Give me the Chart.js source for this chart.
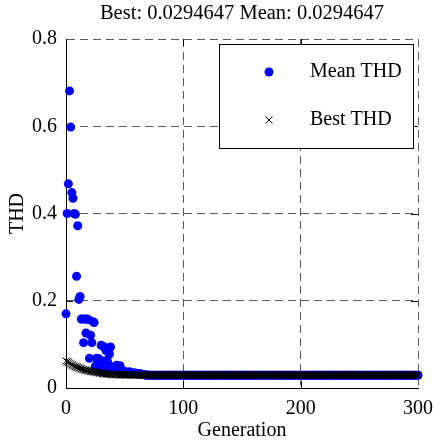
<!DOCTYPE html>
<html><head><meta charset="utf-8">
<script src="https://cdn.jsdelivr.net/npm/chart.js@4"></script>
<style>html,body{margin:0;padding:0;background:#fff}#wrap{width:434px;height:446px}</style>
</head><body><div id="wrap"><canvas id="c" width="434" height="446"></canvas></div>
<script>
// ---- data (one value per generation, generation = array index) ----
const chartTitle = 'Best: 0.0294647 Mean: 0.0294647';
const seriesNames = ['Mean THD', 'Best THD'];
const generationTicks = [0, 100, 200, 300];
const thdTicks = [0, 0.2, 0.4, 0.6, 0.8];

const meanTHD = [
0.170,0.400,0.468,0.681,0.598,0.448,0.435,0.400,0.398,0.256,
0.372,0.203,0.210,0.158,0.158,0.104,0.158,0.126,0.158,0.157,
0.068,0.121,0.104,0.152,0.150,0.050,0.068,0.050,0.067,0.049,
0.098,0.062,0.095,0.042,0.086,0.064,0.056,0.078,0.094,0.047,
0.042,0.040,0.044,0.052,0.038,0.050,0.051,0.037,0.041,0.036,
0.038,0.035,0.036,0.034,0.037,0.035,0.034,0.033,0.035,0.033,
0.034,0.033,0.032,0.033,0.032,0.031,0.031,0.030,0.0298,0.0296,
0.0295,0.0295,0.0295,0.0295,0.0295,0.0295,0.0295,0.0295,0.0295,0.0295,
0.0295,0.0295,0.0295,0.0295,0.0295,0.0295,0.0295,0.0295,0.0295,0.0295,
0.0295,0.0295,0.0295,0.0295,0.0295,0.0295,0.0295,0.0295,0.0295,0.0295,
0.0295,0.0295,0.0295,0.0295,0.0295,0.0295,0.0295,0.0295,0.0295,0.0295,
0.0295,0.0295,0.0295,0.0295,0.0295,0.0295,0.0295,0.0295,0.0295,0.0295,
0.0295,0.0295,0.0295,0.0295,0.0295,0.0295,0.0295,0.0295,0.0295,0.0295,
0.0295,0.0295,0.0295,0.0295,0.0295,0.0295,0.0295,0.0295,0.0295,0.0295,
0.0295,0.0295,0.0295,0.0295,0.0295,0.0295,0.0295,0.0295,0.0295,0.0295,
0.0295,0.0295,0.0295,0.0295,0.0295,0.0295,0.0295,0.0295,0.0295,0.0295,
0.0295,0.0295,0.0295,0.0295,0.0295,0.0295,0.0295,0.0295,0.0295,0.0295,
0.0295,0.0295,0.0295,0.0295,0.0295,0.0295,0.0295,0.0295,0.0295,0.0295,
0.0295,0.0295,0.0295,0.0295,0.0295,0.0295,0.0295,0.0295,0.0295,0.0295,
0.0295,0.0295,0.0295,0.0295,0.0295,0.0295,0.0295,0.0295,0.0295,0.0295,
0.0295,0.0295,0.0295,0.0295,0.0295,0.0295,0.0295,0.0295,0.0295,0.0295,
0.0295,0.0295,0.0295,0.0295,0.0295,0.0295,0.0295,0.0295,0.0295,0.0295,
0.0295,0.0295,0.0295,0.0295,0.0295,0.0295,0.0295,0.0295,0.0295,0.0295,
0.0295,0.0295,0.0295,0.0295,0.0295,0.0295,0.0295,0.0295,0.0295,0.0295,
0.0295,0.0295,0.0295,0.0295,0.0295,0.0295,0.0295,0.0295,0.0295,0.0295,
0.0295,0.0295,0.0295,0.0295,0.0295,0.0295,0.0295,0.0295,0.0295,0.0295,
0.0295,0.0295,0.0295,0.0295,0.0295,0.0295,0.0295,0.0295,0.0295,0.0295,
0.0295,0.0295,0.0295,0.0295,0.0295,0.0295,0.0295,0.0295,0.0295,0.0295,
0.0295,0.0295,0.0295,0.0295,0.0295,0.0295,0.0295,0.0295,0.0295,0.0295,
0.0295,0.0295,0.0295,0.0295,0.0295,0.0295,0.0295,0.0295,0.0295,0.0295,
0.0294647
];

const bestTHD = [
0.062,0.060,0.059,0.057,0.055,0.053,0.052,0.050,0.049,0.048,
0.047,0.046,0.045,0.044,0.043,0.042,0.041,0.041,0.040,0.040,
0.039,0.038,0.038,0.037,0.037,0.036,0.036,0.035,0.035,0.034,
0.034,0.033,0.033,0.033,0.032,0.032,0.032,0.032,0.031,0.031,
0.031,0.031,0.031,0.0305,0.0305,0.0305,0.0303,0.0303,0.0302,0.0302,
0.0301,0.0301,0.0300,0.0300,0.0300,0.0299,0.0299,0.0299,0.0298,0.0298,
0.0298,0.0297,0.0297,0.0297,0.0296,0.0296,0.0296,0.0296,0.0295,0.0295,
0.0295,0.0295,0.0295,0.0295,0.0295,0.0295,0.0295,0.0295,0.0295,0.0295,
0.0295,0.0295,0.0295,0.0295,0.0295,0.0295,0.0295,0.0295,0.0295,0.0295,
0.0295,0.0295,0.0295,0.0295,0.0295,0.0295,0.0295,0.0295,0.0295,0.0295,
0.0295,0.0295,0.0295,0.0295,0.0295,0.0295,0.0295,0.0295,0.0295,0.0295,
0.0295,0.0295,0.0295,0.0295,0.0295,0.0295,0.0295,0.0295,0.0295,0.0295,
0.0295,0.0295,0.0295,0.0295,0.0295,0.0295,0.0295,0.0295,0.0295,0.0295,
0.0295,0.0295,0.0295,0.0295,0.0295,0.0295,0.0295,0.0295,0.0295,0.0295,
0.0295,0.0295,0.0295,0.0295,0.0295,0.0295,0.0295,0.0295,0.0295,0.0295,
0.0295,0.0295,0.0295,0.0295,0.0295,0.0295,0.0295,0.0295,0.0295,0.0295,
0.0295,0.0295,0.0295,0.0295,0.0295,0.0295,0.0295,0.0295,0.0295,0.0295,
0.0295,0.0295,0.0295,0.0295,0.0295,0.0295,0.0295,0.0295,0.0295,0.0295,
0.0295,0.0295,0.0295,0.0295,0.0295,0.0295,0.0295,0.0295,0.0295,0.0295,
0.0295,0.0295,0.0295,0.0295,0.0295,0.0295,0.0295,0.0295,0.0295,0.0295,
0.0295,0.0295,0.0295,0.0295,0.0295,0.0295,0.0295,0.0295,0.0295,0.0295,
0.0295,0.0295,0.0295,0.0295,0.0295,0.0295,0.0295,0.0295,0.0295,0.0295,
0.0295,0.0295,0.0295,0.0295,0.0295,0.0295,0.0295,0.0295,0.0295,0.0295,
0.0295,0.0295,0.0295,0.0295,0.0295,0.0295,0.0295,0.0295,0.0295,0.0295,
0.0295,0.0295,0.0295,0.0295,0.0295,0.0295,0.0295,0.0295,0.0295,0.0295,
0.0295,0.0295,0.0295,0.0295,0.0295,0.0295,0.0295,0.0295,0.0295,0.0295,
0.0295,0.0295,0.0295,0.0295,0.0295,0.0295,0.0295,0.0295,0.0295,0.0295,
0.0295,0.0295,0.0295,0.0295,0.0295,0.0295,0.0295,0.0295,0.0295,0.0295,
0.0295,0.0295,0.0295,0.0295,0.0295,0.0295,0.0295,0.0295,0.0295,0.0295,
0.0295,0.0295,0.0295,0.0295,0.0295,0.0295,0.0295,0.0295,0.0295,0.0295,
0.0294647
];

// ---- chart ----
const FONT = 'Liberation Serif, Times New Roman, serif';
Chart.defaults.font.family = FONT;
Chart.defaults.font.size = 20;
Chart.defaults.color = '#000';

const toPoints = arr => arr.map((v, i) => ({x: i, y: v}));

// title centred over the plot area
const plotTitle = {
  id: 'plotTitle',
  afterDraw(chart) {
    const {ctx, chartArea: a} = chart;
    ctx.save();
    ctx.fillStyle = '#000';
    ctx.font = '20.5px ' + FONT;
    ctx.textAlign = 'center';
    ctx.textBaseline = 'middle';
    ctx.fillText(chartTitle, (a.left + a.right) / 2, 14);
    ctx.restore();
  }
};

// inward tick marks (like the reference's boxed axes)
const innerTicks = {
  id: 'innerTicks',
  beforeDatasetsDraw(chart) {
    const {ctx, chartArea: a, scales: {x, y}} = chart;
    ctx.save();
    ctx.strokeStyle = '#000';
    ctx.lineWidth = 1;
    ctx.beginPath();
    generationTicks.slice(1, -1).forEach(g => {
      const px = Math.round(x.getPixelForValue(g)) + 0.5;
      ctx.moveTo(px, a.bottom); ctx.lineTo(px, a.bottom - 7);
      ctx.moveTo(px, a.top); ctx.lineTo(px, a.top + 7);
    });
    thdTicks.slice(1, -1).forEach(t => {
      const py = Math.round(y.getPixelForValue(t)) + 0.5;
      ctx.moveTo(a.left, py); ctx.lineTo(a.left + 7, py);
      ctx.moveTo(a.right, py); ctx.lineTo(a.right - 7, py);
    });
    ctx.stroke();
    ctx.restore();
  }
};

// legend box inside the plot, top-right
const boxLegend = {
  id: 'boxLegend',
  afterDraw(chart) {
    const {ctx, chartArea: a} = chart;
    const w = 194, h = 104;
    const bx = a.right - 5 - w, by = a.top + 5;
    ctx.save();
    ctx.fillStyle = '#fff';
    ctx.fillRect(bx, by, w, h);
    ctx.strokeStyle = '#000';
    ctx.lineWidth = 1;
    ctx.strokeRect(Math.round(bx) + 0.5, Math.round(by) + 0.5, w, h);
    ctx.restore();
    const order = [1, 0]; // Mean first, then Best
    order.forEach((di, row) => {
      const ds = chart.data.datasets[di];
      const cy = by + 28 + row * 48;
      const cx = bx + 50;
      ctx.save();
      ctx.fillStyle = ds.backgroundColor;
      ctx.strokeStyle = ds.borderColor;
      ctx.lineWidth = ds.pointBorderWidth || 1;
      Chart.helpers.drawPoint(ctx, {
        pointStyle: ds.pointStyle, radius: ds.pointRadius, rotation: 0,
        borderWidth: ds.pointBorderWidth
      }, cx, cy);
      ctx.fillStyle = '#000';
      ctx.font = '20px ' + FONT;
      ctx.textBaseline = 'middle';
      ctx.textAlign = 'left';
      ctx.fillText(ds.label, bx + 91, cy);
      ctx.restore();
    });
  }
};

new Chart(document.getElementById('c'), {
  type: 'scatter',
  data: {
    datasets: [
      {
        label: seriesNames[1], data: toPoints(bestTHD),
        pointStyle: 'crossRot', pointRadius: 5, pointHoverRadius: 5,
        borderColor: '#000', backgroundColor: '#000', pointBorderWidth: 1,
        order: 0, clip: false
      },
      {
        label: seriesNames[0], data: toPoints(meanTHD),
        pointStyle: 'circle', pointRadius: 4.5, pointHoverRadius: 4.5,
        borderColor: '#0000ff', backgroundColor: '#0000ff', pointBorderWidth: 0,
        order: 1, clip: false
      }
    ]
  },
  options: {
    responsive: false,
    animation: false,
    events: [],
    layout: {padding: {left: 0, right: 16, top: 39, bottom: 0}},
    plugins: {
      legend: {display: false},
      tooltip: {enabled: false},
      title: {display: false}
    },
    scales: {
      x: {
        type: 'linear', min: generationTicks[0], max: generationTicks[generationTicks.length - 1],
        afterBuildTicks: s => { s.ticks = generationTicks.map(v => ({value: v})); },
        ticks: {padding: 9, font: {family: FONT, size: 20}, color: '#000', maxRotation: 0},
        grid: {color: '#5a5a5a', lineWidth: 1, drawTicks: false},
        border: {display: true, color: '#000', width: 1, dash: [8, 5]},
        title: {display: true, text: 'Generation', color: '#000',
          font: {family: FONT, size: 20}, padding: {top: 0, bottom: 3}},
        afterFit: s => { s.height = 58; s.paddingRight = 0; s.paddingLeft = 0; }
      },
      y: {
        type: 'linear', min: thdTicks[0], max: thdTicks[thdTicks.length - 1],
        afterBuildTicks: s => { s.ticks = thdTicks.map(v => ({value: v})); },
        ticks: {padding: 9, font: {family: FONT, size: 20}, color: '#000',
          callback: v => String(Math.round(v * 10) / 10)},
        grid: {color: '#5a5a5a', lineWidth: 1, drawTicks: false},
        border: {display: true, color: '#000', width: 1, dash: [8, 5]},
        title: {display: true, text: 'THD', color: '#000',
          font: {family: FONT, size: 20}, padding: {top: 6, bottom: 0}},
        afterFit: s => { s.width = 66; }
      }
    }
  },
  plugins: [innerTicks, boxLegend, plotTitle]
});
</script>
</body></html>
